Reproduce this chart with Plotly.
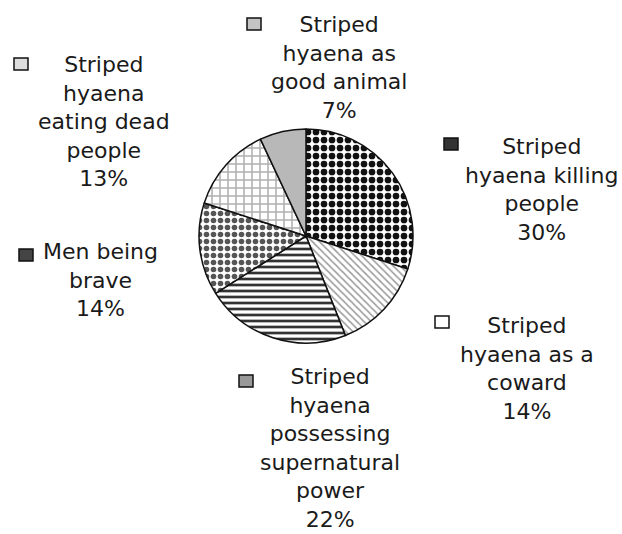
import plotly.graph_objects as go

# ---- data ----
categories = [
    "Striped hyaena killing people",
    "Striped hyaena as a coward",
    "Striped hyaena possessing supernatural power",
    "Men being brave",
    "Striped hyaena eating dead people",
    "Striped hyaena as good animal",
]
values = [30, 14, 22, 14, 13, 7]
label_lines = [
    ["Striped", "hyaena killing", "people"],
    ["Striped", "hyaena as a", "coward"],
    ["Striped", "hyaena", "possessing", "supernatural", "power"],
    ["Men being", "brave"],
    ["Striped", "hyaena", "eating dead", "people"],
    ["Striped", "hyaena as", "good animal"],
]

# ---- styles ----
W, H = 622, 534
pat_shape = [".", "\\", "-", ".", "+", ""]
pat_fg = ["#111111", "#9a9a9a", "#333333", "#555555", "#b0b0b0", "#b8b8b8"]
pat_bg = ["#ffffff", "#ffffff", "#ffffff", "#ffffff", "#ffffff", "#b8b8b8"]
pat_size = [8, 5, 6, 7, 8, 8]
pat_solid = [0.55, 0.3, 0.45, 0.5, 0.35, 0.3]
fills = ["#ffffff", "#ffffff", "#ffffff", "#ffffff", "#ffffff", "#b8b8b8"]
key_fill = ["#333333", "#ffffff", "#999999", "#444444", "#dddddd", "#c4c4c4"]
# label block centres (px) and key positions (px)
label_pos = [(542, 189), (527, 368), (330, 448), (100, 280), (104, 121), (339, 68)]
key_pos = [(451, 144), (442, 322), (246, 381), (26, 255), (21, 64), (254, 24)]

cx, cy, r = 306, 236, 107

fig = go.Figure(go.Pie(
    labels=categories,
    values=values,
    sort=False,
    direction="clockwise",
    rotation=0,
    textinfo="none",
    hoverinfo="label+percent",
    showlegend=False,
    marker=dict(colors=fills,
                pattern=dict(shape=pat_shape, fgcolor=pat_fg, bgcolor=pat_bg,
                             size=pat_size, solidity=pat_solid, fillmode="replace"),
                line=dict(color="#111111", width=1.5)),
    domain=dict(x=[(cx - r) / W, (cx + r) / W],
                y=[1 - (cy + r) / H, 1 - (cy - r) / H]),
))

total = sum(values)
annotations = []
shapes = []
for lines, v, (lx, ly), (kx, ky), kf in zip(label_lines, values, label_pos, key_pos, key_fill):
    txt = "<br>".join(lines + [f"{round(100 * v / total)}%"])
    annotations.append(dict(
        text=txt, x=lx / W, y=1 - ly / H, xref="paper", yref="paper",
        xanchor="center", yanchor="middle", align="center", showarrow=False,
        font=dict(family="DejaVu Sans", size=22, color="#1a1a1a"),
    ))
    shapes.append(dict(
        type="rect", xref="paper", yref="paper",
        x0=(kx - 7) / W, x1=(kx + 7) / W, y0=1 - (ky + 6) / H, y1=1 - (ky - 6) / H,
        fillcolor=kf, line=dict(color="#111111", width=1.5),
    ))

fig.update_layout(
    width=W, height=H,
    margin=dict(l=0, r=0, t=0, b=0),
    paper_bgcolor="#ffffff",
    plot_bgcolor="#ffffff",
    annotations=annotations,
    shapes=shapes,
)

fig.write_html("out.html", config={"displayModeBar": False},
               post_script="document.body.style.margin='0';")
